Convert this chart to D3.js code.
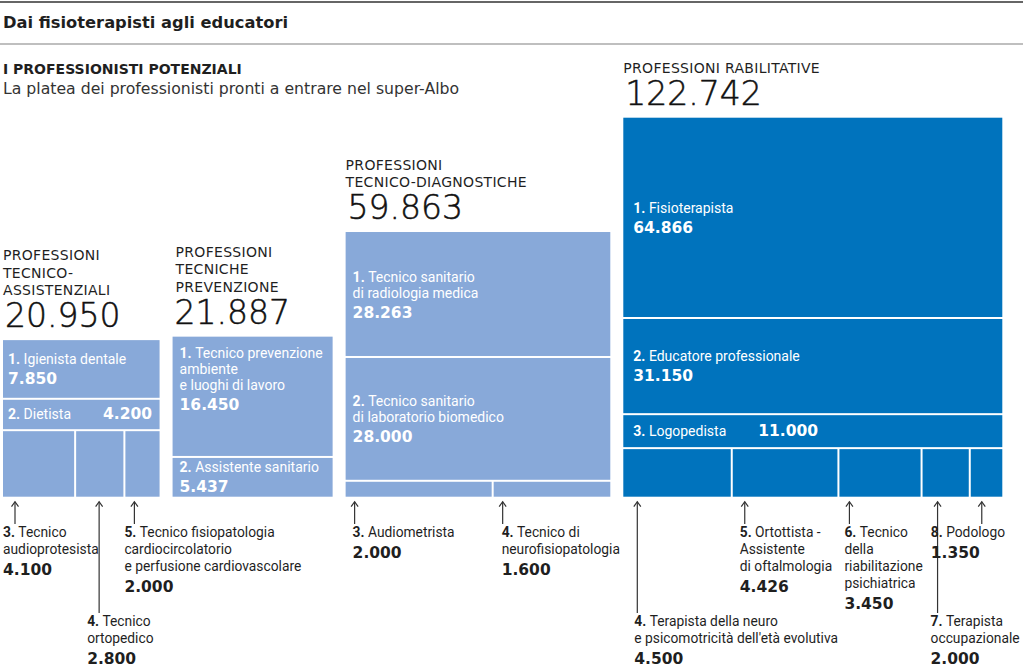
<!DOCTYPE html>
<html><head><meta charset="utf-8">
<script src="https://cdn.jsdelivr.net/npm/d3@7"></script>
<style>
body{margin:0;background:#fff}
svg{display:block;font-family:Roboto,"Noto Sans",sans-serif}
</style>
</head><body><svg id="c" width="1023" height="669"></svg>
<script>
// ---------------- DATA ----------------
const title = "Dai fisioterapisti agli educatori";
const subtitle = "I PROFESSIONISTI POTENZIALI";
const description = "La platea dei professionisti pronti a entrare nel super-Albo";

const groupHeaders = [
  ["PROFESSIONI","TECNICO-","ASSISTENZIALI"],
  ["PROFESSIONI","TECNICHE","PREVENZIONE"],
  ["PROFESSIONI","TECNICO-DIAGNOSTICHE"],
  ["PROFESSIONI RABILITATIVE"]
];
const groupTotals = [20950, 21887, 59863, 122742];

const itemGroup = [0,0,0,0,0, 1,1, 2,2,2,2, 3,3,3,3,3,3,3,3];
const itemRow   = [0,1,2,2,2, 0,1, 0,1,2,2, 0,1,2,3,3,3,3,3];
const itemRank  = [1,2,3,4,5, 1,2, 1,2,3,4, 1,2,3,4,5,6,7,8];
const itemNames = [
  ["Igienista dentale"], ["Dietista"], ["Tecnico","audioprotesista"], ["Tecnico","ortopedico"],
  ["Tecnico fisiopatologia","cardiocircolatorio","e perfusione cardiovascolare"],
  ["Tecnico prevenzione","ambiente","e luoghi di lavoro"], ["Assistente sanitario"],
  ["Tecnico sanitario","di radiologia medica"], ["Tecnico sanitario","di laboratorio biomedico"],
  ["Audiometrista"], ["Tecnico di","neurofisiopatologia"],
  ["Fisioterapista"], ["Educatore professionale"], ["Logopedista"],
  ["Terapista della neuro","e psicomotricità dell'età evolutiva"],
  ["Ortottista -","Assistente","di oftalmologia"],
  ["Tecnico","della","riabilitazione","psichiatrica"],
  ["Terapista","occupazionale"], ["Podologo"]
];
const itemValues = [7850,4200,4100,2800,2000, 16450,5437, 28263,28000,2000,1600,
                    64866,31150,11000,4500,4426,3450,2000,1350];

// ---------------- LAYOUT / STYLE ----------------
const W = 1023, H = 669;
const groupColors = ["#88a9d9","#88a9d9","#88a9d9","#0073bd"];
const groupAlign  = ["top","top","center","center"];
const groupPad    = [5, 7, 7, 10];
const calloutLevel   = {2:0, 3:1, 4:0, 9:0, 10:0, 14:1, 15:0, 16:0, 17:1, 18:0};
const calloutArrowDx = {2:12, 3:24, 4:10, 9:9, 10:10, 14:14, 15:13, 16:11, 17:16, 18:12};
const calloutLabelDx = {2:-12, 3:-12, 4:-10, 9:-2, 10:-1, 14:-3, 15:-5, 16:-5, 17:-7, 18:-51};
const levelBaseline = [537, 626];
const boxBottom = 496.7, boxLeft0 = 3, boxGap = 13;
const wideFont = "'DejaVu Sans',sans-serif";

const fmt = d3.formatLocale({decimal:",", thousands:".", grouping:[3], currency:["",""]}).format(",d");

const svg = d3.select("#c");
const ink = "#1f1f1f";

// top rules and title
svg.append("line").attr("x1",0).attr("x2",W).attr("y1",2).attr("y2",2).attr("stroke","#333").attr("stroke-width",1.5);
svg.append("line").attr("x1",0).attr("x2",W).attr("y1",44).attr("y2",44).attr("stroke","#aaa").attr("stroke-width",1.5);
svg.append("text").attr("x",3).attr("y",28).attr("font-family",wideFont).attr("font-size",16.3).attr("font-weight",700).attr("fill",ink).text(title);
svg.append("text").attr("x",3).attr("y",74).attr("font-family",wideFont).attr("font-size",14).attr("font-weight",700).attr("fill",ink).text(subtitle);
svg.append("text").attr("x",3).attr("y",94).attr("font-family",wideFont).attr("font-size",15.7).attr("fill","#333").text(description);

// side scale: area proportional to total
const side = d3.scaleSqrt().domain([0, d3.max(groupTotals)]).range([0, 379]);

let xCursor = boxLeft0;
groupTotals.forEach((total, g) => {
  const s = side(total);
  const x0 = xCursor, y0 = boxBottom - s;
  xCursor += s + boxGap;
  const gEl = svg.append("g");

  // header
  const hdr = groupHeaders[g];
  const numBase = y0 - 13;
  hdr.forEach((ln, i) => {
    gEl.append("text").attr("x", x0 + (g===1?3:0)).attr("y", numBase - 32 - 17.5*(hdr.length-1-i))
      .attr("font-family",wideFont).attr("font-size",14).attr("letter-spacing",0.3).attr("fill",ink).text(ln);
  });
  gEl.append("text").attr("x", x0 + 2).attr("y", numBase)
    .attr("font-family",wideFont).attr("font-weight",200)
    .attr("font-size",33).attr("fill","#111").attr("stroke","#111").attr("stroke-width",0.5)
    .text(fmt(total));

  // rows
  const idx = d3.range(itemValues.length).filter(i => itemGroup[i] === g);
  const rows = d3.groups(idx, i => itemRow[i]);
  const yScale = d3.scaleLinear().domain([0, total]).range([y0, y0 + s]);
  let acc = 0;
  rows.forEach(([r, items], ri) => {
    const rowSum = d3.sum(items, i => itemValues[i]);
    const ry0 = yScale(acc), ry1 = yScale(acc + rowSum);
    acc += rowSum;
    const xScale = d3.scaleLinear().domain([0, rowSum]).range([x0, x0 + s]);
    let xa = 0;
    items.forEach((i, k) => {
      const cx0 = xScale(xa), cx1 = xScale(xa + itemValues[i]);
      xa += itemValues[i];
      const rx = cx0 + (k>0?1:0), rw = cx1 - (k<items.length-1?1:0) - rx;
      const ry = ry0 + (ri>0?1:0), rh = ry1 - (ri<rows.length-1?1:0) - ry;
      gEl.append("rect").attr("x",rx).attr("y",ry).attr("width",rw).attr("height",rh).attr("fill",groupColors[g]);

      const names = itemNames[i];
      if (items.length === 1) {
        const tx = x0 + groupPad[g];
        const h = ry1 - ry0;
        if (h < 36) {
          const cy = (ry0 + ry1)/2 + 5;
          const t = gEl.append("text").attr("x",tx).attr("y",cy).attr("font-size",14).attr("fill","#fff");
          t.append("tspan").attr("font-weight",700).text(itemRank[i] + ". ");
          t.append("tspan").text(names[0]);
          const bb = t.node().getComputedTextLength();
          gEl.append("text").attr("x", tx + bb + 32).attr("y", cy)
            .attr("font-family",wideFont).attr("font-weight",700).attr("font-size",15.5)
            .attr("fill","#fff").text(fmt(itemValues[i]));
        } else {
          const n = names.length;
          const blockH = 10 + 16*(n-1) + 20;
          const useTop = groupAlign[g] === "top" && h > 70;
          const b1 = useTop ? ry0 + 21 : (ry0+ry1)/2 - blockH/2 + 10;
          names.forEach((ln, j) => {
            const t = gEl.append("text").attr("x",tx).attr("y",b1 + 16*j).attr("font-size",14).attr("fill","#fff");
            if (j===0) { t.append("tspan").attr("font-weight",700).text(itemRank[i] + ". "); }
            t.append("tspan").text(ln);
          });
          gEl.append("text").attr("x",tx).attr("y",b1 + 16*(n-1) + 20)
            .attr("font-family",wideFont).attr("font-weight",700).attr("font-size",15.5)
            .attr("fill","#fff").text(fmt(itemValues[i]));
        }
      } else {
        // callout below the box
        const ax = cx0 + calloutArrowDx[i];
        const lb = levelBaseline[calloutLevel[i]];
        const ayTop = boxBottom + 5, ayBot = lb - 13;
        gEl.append("line").attr("x1",ax).attr("x2",ax).attr("y1",ayTop).attr("y2",ayBot)
          .attr("stroke","#333").attr("stroke-width",1.2);
        gEl.append("path").attr("d",`M${ax-3.5},${ayTop+5}L${ax},${ayTop}L${ax+3.5},${ayTop+5}`)
          .attr("fill","none").attr("stroke","#333").attr("stroke-width",1.2);
        const lx = ax + calloutLabelDx[i];
        names.forEach((ln, j) => {
          const t = gEl.append("text").attr("x",lx).attr("y",lb + 17*j).attr("font-size",13.8).attr("fill",ink);
          if (j===0) { t.append("tspan").attr("font-weight",700).text(itemRank[i] + ". "); }
          t.append("tspan").text(ln);
        });
        gEl.append("text").attr("x",lx).attr("y",lb + 17*(names.length-1) + 21)
          .attr("font-family",wideFont).attr("font-weight",700).attr("font-size",15.5)
          .attr("fill",ink).text(fmt(itemValues[i]));
      }
    });
  });
});
</script>
</body></html>
